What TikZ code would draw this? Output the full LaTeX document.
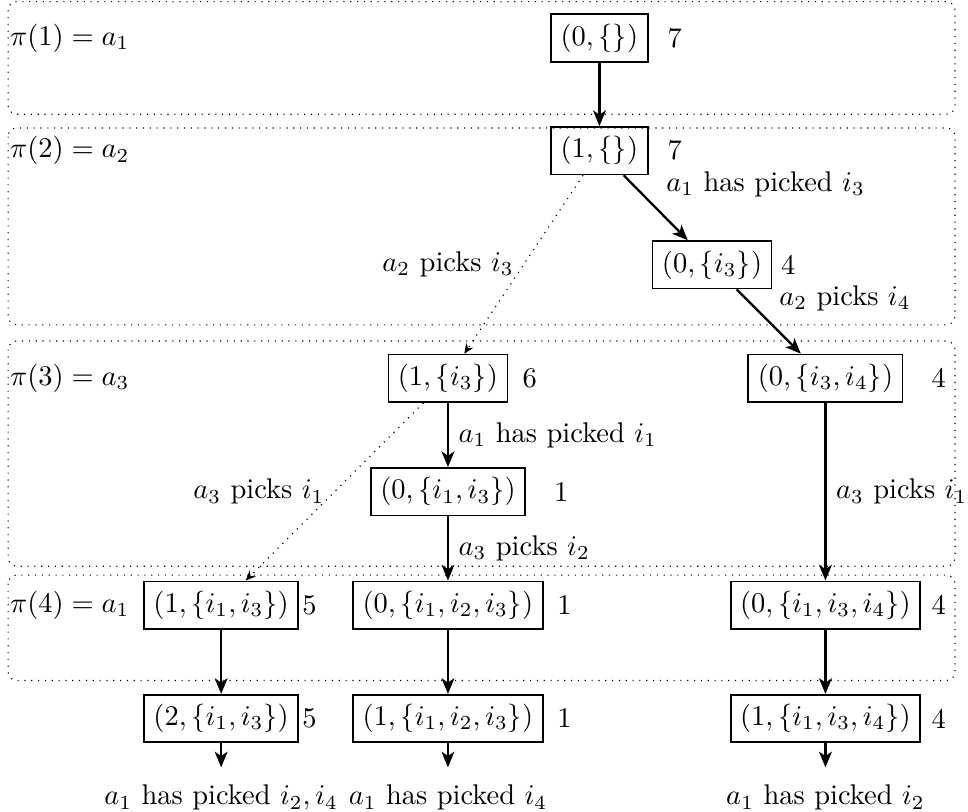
\documentclass[tikz,border=0pt]{standalone}
\usepackage{amsmath}
\usetikzlibrary{arrows.meta, positioning}

\begin{document}
\begin{tikzpicture}[
    state/.style = {rectangle, draw, semithick},
    agent/.style = {anchor=west},
    layer/.style = {draw, dotted, rounded corners=3pt},
    outcome/.style = {inner ysep=6pt},
    move/.style = {->, thick},
    pick/.style = {-{Stealth[length=3.5pt, width=3pt]}, dotted},
    >={Stealth[length=5.5pt, width=4.5pt, inset=1.5pt]}]

\useasboundingbox (0,0) rectangle (11.95,-10.02);

% layers
\draw[layer] (0.10,-0.02) rectangle (11.79,-1.41);
\draw[layer] (0.10,-1.58) rectangle (11.79,-4.01);
\draw[layer] (0.10,-4.21) rectangle (11.79,-6.99);
\draw[layer] (0.10,-7.10) rectangle (11.79,-8.40);

\node[agent] (P1) at (0,-0.47) {$\pi(1) = a_1$};
\node[agent] (P2) at (0,-1.86) {$\pi(2) = a_2$};
\node[agent] (P3) at (0,-4.67) {$\pi(3) = a_3$};
\node[agent] (P4) at (0,-7.47) {$\pi(4) = a_1$};

\node[state] (A) at (7.40,-0.47) {$(0,\{\})$};
\node[state] (B) at (7.40,-1.86) {$(1,\{\})$};
\node[state] (C) at (8.79,-3.27) {$(0,\{i_3\})$};
\node[state] (D) at (10.19,-4.67) {$(0,\{i_3,i_4\})$};
\node[state] (E) at (5.53,-4.67) {$(1,\{i_3\})$};
\node[state] (F) at (5.53,-6.07) {$(0,\{i_1,i_3\})$};
\node[state] (G) at (2.73,-7.47) {$(1,\{i_1,i_3\})$};
\node[state] (H) at (5.53,-7.47) {$(0,\{i_1,i_2,i_3\})$};
\node[state] (I) at (10.19,-7.47) {$(0,\{i_1,i_3,i_4\})$};
\node[state] (J) at (2.73,-8.87) {$(2,\{i_1,i_3\})$};
\node[state] (K) at (5.53,-8.87) {$(1,\{i_1,i_2,i_3\})$};
\node[state] (L) at (10.19,-8.87) {$(1,\{i_1,i_3,i_4\})$};

% weights
\node (Aw) at (8.33,-0.47) {7};
\node (Bw) at (8.33,-1.86) {7};
\node (Cw) at (9.73,-3.27) {4};
\node (Dw) at (11.59,-4.67) {4};
\node (Ew) at (6.54,-4.67) {6};
\node (Fw) at (6.93,-6.07) {1};
\node (Gw) at (3.82,-7.47) {5};
\node (Hw) at (6.97,-7.47) {1};
\node (Iw) at (11.59,-7.47) {4};
\node (Jw) at (3.82,-8.87) {5};
\node (Kw) at (6.97,-8.87) {1};
\node (Lw) at (11.59,-8.87) {4};

\node[outcome, below=3mm of J] (X) {$a_1$ has picked $i_2, i_4$};
\node[outcome, below=3mm of K] (Y) {$a_1$ has picked $i_4$};
\node[outcome, below=3mm of L] (Z) {$a_1$ has picked $i_2$};

%connectors
\draw[move] (A) -- (B);
\draw[move] (B) -- node[above right] {$a_1$ has picked $i_3$} (C);
\draw[pick] (B) -- node[left] {$a_2$ picks $i_3$} (E);
\draw[move] (C) -- node[above right] {$a_2$ picks $i_4$} (D);
\draw[move] (E) -- node[right] {$a_1$ has picked $i_1$} (F);
\draw[pick] (E) -- node[left] {$a_3$ picks $i_1$} (G);
\draw[move] (F) -- node[right] {$a_3$ picks $i_2$} (H);
\draw[move] (D) -- node[right] {$a_3$ picks $i_1$} (I);
\draw[move] (G) -- (J);
\draw[move] (H) -- (K);
\draw[move] (I) -- (L);
\draw[move] (J) -- (X);
\draw[move] (K) -- (Y);
\draw[move] (L) -- (Z);
\end{tikzpicture}
\end{document}
